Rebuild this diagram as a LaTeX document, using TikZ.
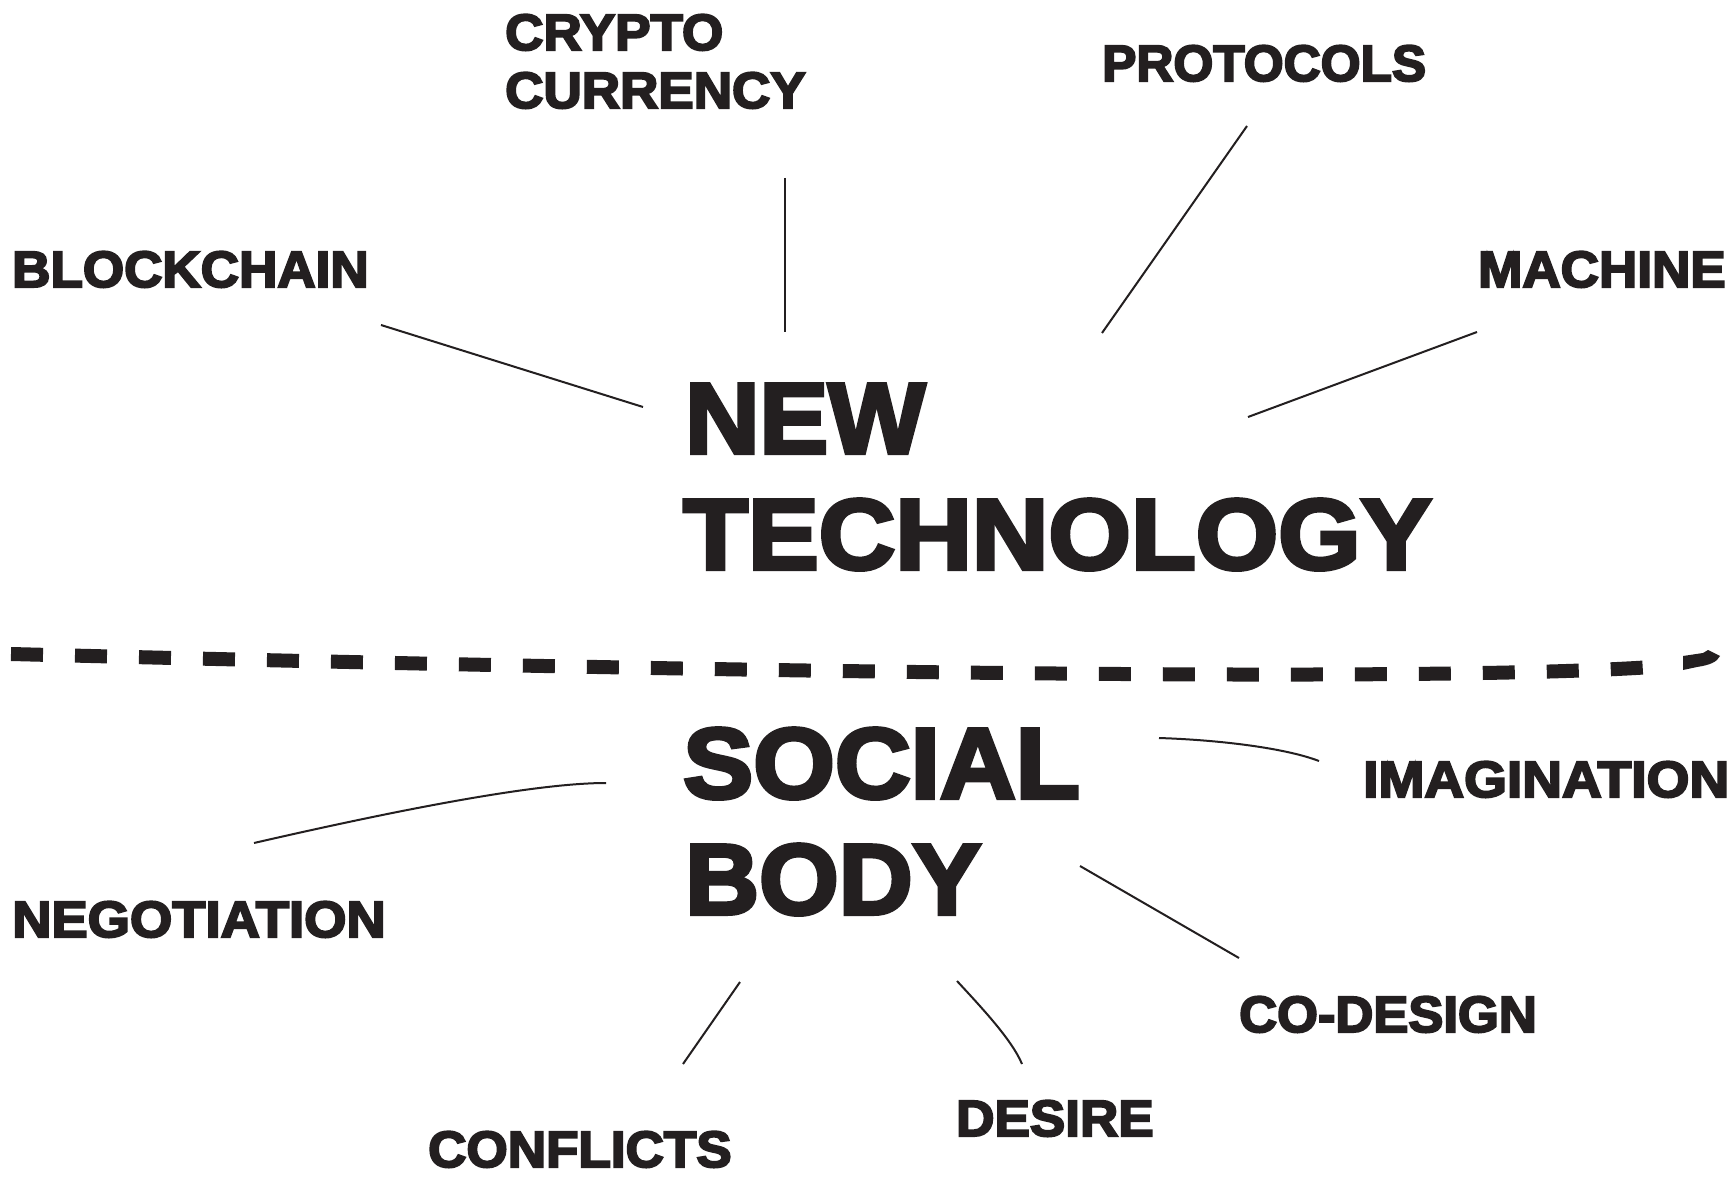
\documentclass[tikz,border=0pt]{standalone}
\usepackage{fontspec}
\newfontfamily\hv[FakeBold=4,FakeStretch=1.04]{Liberation Sans Bold}
\newfontfamily\hvbig[FakeBold=4,FakeStretch=1.05]{Liberation Sans Bold}
\definecolor{ink}{HTML}{231F20}
\newcommand{\sx}[2]{\scalebox{#1}[1]{#2}}
\begin{document}
\begin{tikzpicture}[x=1pt,y=-1pt,
  lbl/.style={anchor=base west, inner sep=0pt, text=ink, font=\hv\fontsize{51}{58}\selectfont},
  big/.style={anchor=base west, inner sep=0pt, text=ink, font=\hvbig\fontsize{100}{116}\selectfont},
  link/.style={draw=ink, line width=2pt},
  divider/.style={draw=ink, line width=14pt, line cap=butt}]
\useasboundingbox[fill=white] (0,0) rectangle (1733,1177);

% main titles
\node[big] (new)    at (685,453) {\sx{0.98}{NEW}};
\node[big] (tech)   at (683,569) {\sx{1.01}{TECHNOLOGY}};
\node[big] (social) at (683,798) {SOCIAL};
\node[big] (body)   at (685,914) {\sx{0.975}{BODY}};

% labels
\node[lbl] (crypto)   at (505,50)   {CRYPTO};
\node[lbl] (currency) at (505,108)  {CURRENCY};
\node[lbl] (protocols) at (1102,81) {\sx{0.967}{PROTOCOLS}};
\node[lbl] (blockchain) at (12,287) {BLOCKCHAIN};
\node[lbl] (machine)  at (1478,287) {MACHINE};
\node[lbl] (imagination) at (1363,797) {\sx{1.038}{IMAGINATION}};
\node[lbl] (negotiation) at (12,937) {\sx{1.025}{NEGOTIATION}};
\node[lbl] (codesign) at (1239,1032) {\sx{0.99}{CO-DESIGN}};
\node[lbl] (desire)   at (956,1136) {DESIRE};
\node[lbl] (conflicts) at (428,1167) {CONFLICTS};

% connector ends
\coordinate (bcA) at (381,325);  \coordinate (bcB) at (643,407);
\coordinate (crA) at (785,178);  \coordinate (crB) at (785,332);
\coordinate (prA) at (1247,126); \coordinate (prB) at (1102,333);
\coordinate (maA) at (1477,332); \coordinate (maB) at (1248,417);
\coordinate (neA) at (254,843);  \coordinate (neB) at (606,783);
\coordinate (imA) at (1159,738); \coordinate (imB) at (1319,761);
\coordinate (coA) at (1080,866); \coordinate (coB) at (1239,958);
\coordinate (deA) at (957,981);  \coordinate (deB) at (1022,1064);
\coordinate (cfA) at (740,982);  \coordinate (cfB) at (683,1064);

\draw[link] (bcA) -- (bcB);
\draw[link] (crA) -- (crB);
\draw[link] (prA) -- (prB);
\draw[link] (maA) -- (maB);
\draw[link] (neA) .. controls (428,803) and (545,783) .. (neB);
\draw[link] (imA) .. controls (1220,740) and (1285,748) .. (imB);
\draw[link] (coA) -- (coB);
\draw[link] (deA) .. controls (982,1008) and (1012,1040) .. (deB);
\draw[link] (cfA) -- (cfB);

% dashed divider
\coordinate (dvA) at (11,654);
\coordinate (dvB) at (1652,667);
\draw[divider, dash pattern=on 32pt off 32pt] (dvA) .. controls (600,669) and (1400,684) .. (dvB);
% last, pointed dash
\coordinate (tipL) at (1683,656);
\coordinate (tipS) at (1708,650);
\coordinate (tipR) at (1720,656);
\fill[ink] (tipL) -- (1703,653) -- (tipS) -- (tipR)
  .. controls (1717,662) and (1710,665) .. (1697,667) -- (1683,670) -- cycle;
\end{tikzpicture}
\end{document}
